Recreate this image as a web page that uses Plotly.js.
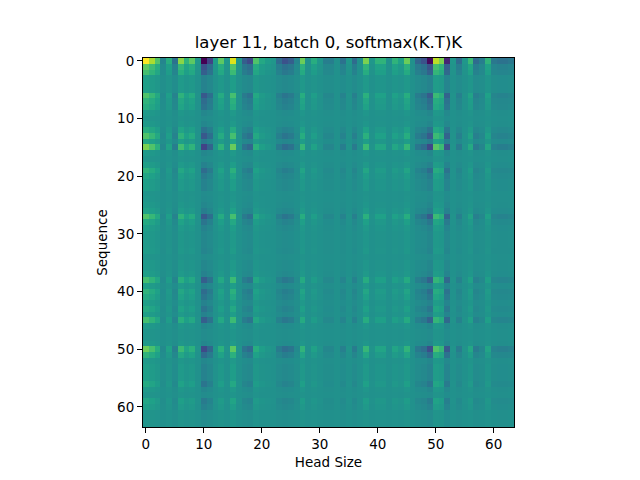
<!DOCTYPE html>
<html>
<head>
<meta charset="utf-8">
<script src="https://cdn.plot.ly/plotly-3.0.1.min.js"></script>
<style>
  body { margin: 0; background: #fff; }
  #chart { width: 640px; height: 480px; }
</style>
</head>
<body>
<div id="chart"></div>
<script>
// strength of each sequence row (row 0 = strongest)
var rowWeight = [
    1.0, 0.5, 0.4, 0.12, 0.12, 0.12, 0.45, 0.3, 0.25, 0.08,
    0.04, 0.08, 0.25, 0.45, 0.18, 0.6, 0.08, 0.04, 0.12, 0.3,
    0.18, 0.12, 0.12, 0.04, 0.05, 0.08, 0.15, 0.45, 0.22, 0.12,
    0.08, 0.08, 0.08, 0.1, 0.04, 0.08, 0.08, 0.12, 0.4, 0.12,
    0.3, 0.22, 0.12, 0.22, 0.12, 0.4, 0.08, 0.04, 0.04, 0.08,
    0.55, 0.3, 0.08, 0.12, 0.12, 0.12, 0.22, 0.08, 0.04, 0.18,
    0.12, 0.04, 0.04, 0.04
];

// head-size column pattern (read from the top row)
var colPattern = [
    1.0, 0.75, 0.45, -0.1, 0.25, -0.25, 0.65, 0.3, 0.5, 0.05,
    -1.0, -0.6, 0.1, 0.5, 0.05, 0.9, 0.05, -0.4, -0.55, 0.45,
    0.2, 0.1, 0.05, -0.3, -0.5, -0.4, -0.1, 0.55, 0.0, 0.25,
    0.05, -0.15, -0.15, 0.0, -0.25, 0.05, -0.3, 0.0, 0.6, 0.05,
    0.3, 0.3, 0.0, 0.3, 0.15, 0.55, 0.0, -0.35, -0.5, -0.95,
    0.8, 0.6, -0.8, 0.05, -0.3, 0.05, 0.35, -0.3, -0.15, 0.3,
    -0.2, -0.25, -0.25, -0.2
];

var tickVals = [0, 10, 20, 30, 40, 50, 60];

// build the matrix from row strength x column pattern
var z = rowWeight.map(function(r) {
    return colPattern.map(function(c) { return r * c; });
});
var xs = colPattern.map(function(_, j) { return j; });
var ys = rowWeight.map(function(_, i) { return i; });

var trace = {
    type: 'heatmap',
    x: xs,
    y: ys,
    z: z,
    colorscale: 'Viridis',
    showscale: false,
    hoverinfo: 'none'
};

function axis(title, range) {
    return {
        title: { text: title, font: { size: 13.5, color: '#000' }, standoff: 6 },
        range: range,
        tickvals: tickVals,
        ticks: 'outside',
        ticklen: 5,
        tickwidth: 1,
        tickcolor: '#000',
        tickfont: { size: 13.5, color: '#000' },
        showline: true,
        linecolor: '#000',
        linewidth: 1,
        mirror: true,
        showgrid: false,
        zeroline: false
    };
}

var layout = {
    width: 640,
    height: 480,
    margin: { l: 143, r: 126, t: 58, b: 53 },
    paper_bgcolor: '#fff',
    plot_bgcolor: '#fff',
    font: { family: 'DejaVu Sans', color: '#000' },
    title: {
        text: 'layer 11, batch 0, softmax(K.T)K',
        font: { size: 16.5, color: '#000' },
        x: 0.5,
        xref: 'paper',
        y: 1 - 42 / 480,
        yanchor: 'middle'
    },
    xaxis: axis('Head Size', [-0.5, 63.5]),
    yaxis: axis('Sequence', [63.5, -0.5])
};

Plotly.newPlot(document.getElementById('chart'), [trace], layout, { staticPlot: true });
</script>
</body>
</html>
